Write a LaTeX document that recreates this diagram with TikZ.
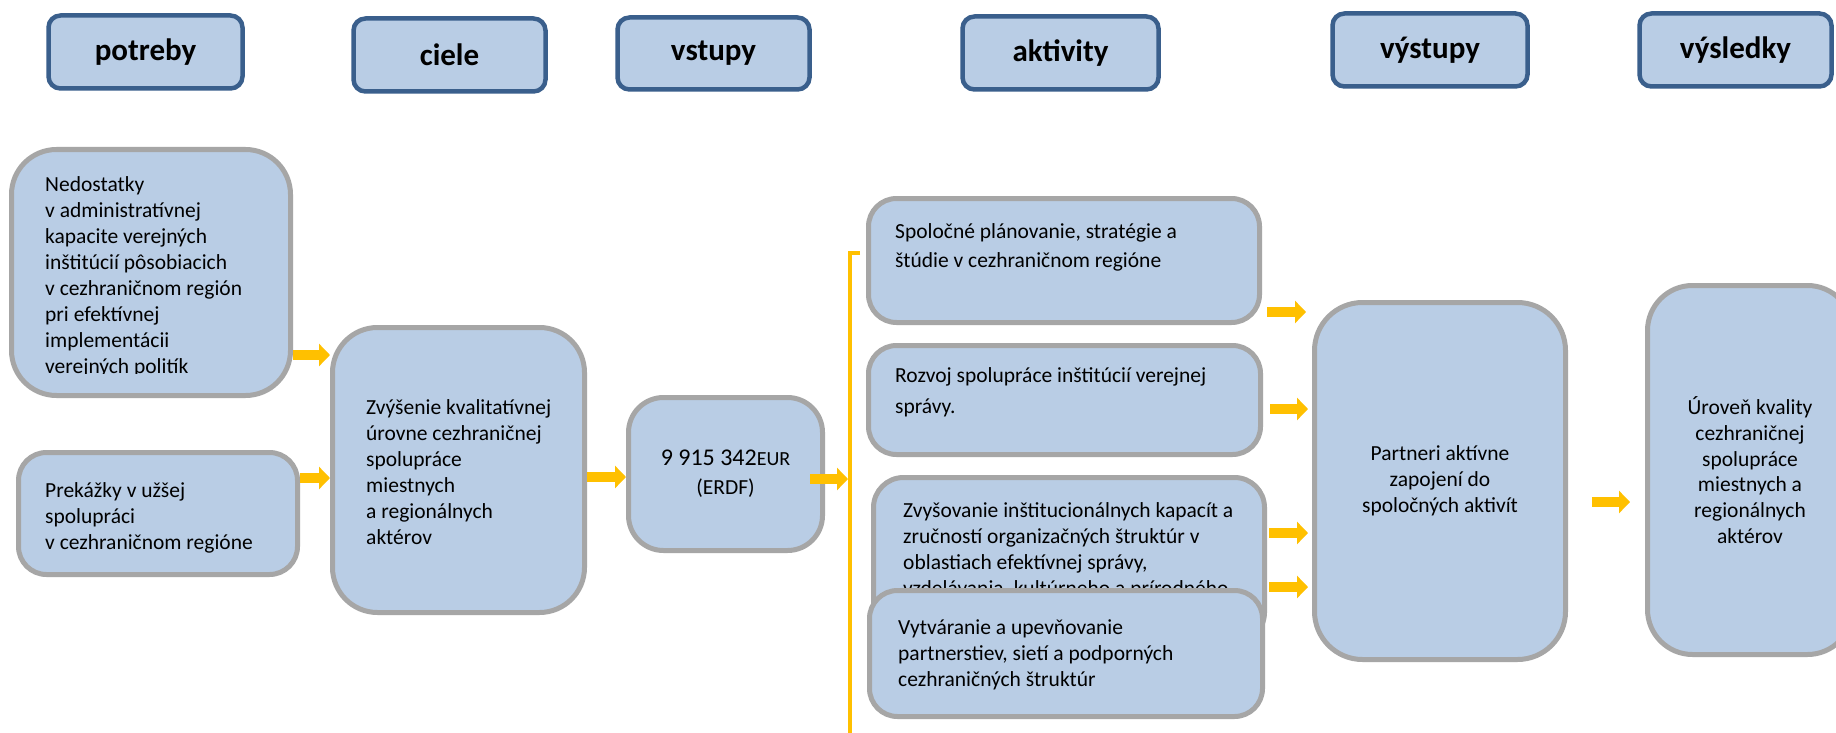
\documentclass[tikz,border=0pt]{standalone}
\usepackage{fontspec}
\setmainfont{Carlito}
\usetikzlibrary{arrows.meta}
\definecolor{boxfill}{HTML}{B9CDE5}
\definecolor{hdrline}{HTML}{3A5F8C}
\definecolor{boxline}{HTML}{A6A6A6}
\definecolor{arrowy}{HTML}{FFC000}
\begin{document}
\begin{tikzpicture}[x=1pt,y=-1pt,
  hdr/.style={draw=hdrline, line width=4.5pt, fill=boxfill, rounded corners=12pt,
    font=\fontsize{31}{36}\selectfont\bfseries, inner sep=0pt},
  body/.style={draw=boxline, line width=5pt, fill=boxfill, inner sep=0pt},
  txt/.style={font=\fontsize{21.5}{26}\selectfont, align=left, inner sep=0pt},
  ctxt/.style={font=\fontsize{21.5}{25.8}\selectfont, align=center},
  yarrow/.style={draw=arrowy, line width=10.5pt, -{Triangle[length=11pt,width=22pt]}},
  bracket/.style={draw=arrowy, line width=4pt},
]
\clip (0,0) rectangle (1836,733);
\fill[white] (0,0) rectangle (1836,733);

% header row
\node[hdr, minimum width=194pt, minimum height=73pt] (hpot) at (145.5,52) {potreby};
\node[hdr, minimum width=192pt, minimum height=73pt] (hcie) at (449.5,55) {ciele};
\node[hdr, minimum width=192pt, minimum height=72pt] (hvst) at (713.5,53.5) {vstupy};
\node[hdr, minimum width=196pt, minimum height=73pt] (hakt) at (1060.5,53) {aktivity};
\node[hdr, minimum width=195pt, minimum height=73pt] (hvys) at (1430,50) {výstupy};
\node[hdr, minimum width=192pt, minimum height=73pt] (hvsl) at (1735.5,50) {výsledky};

% potreby
\node[body, rounded corners=45pt, minimum width=279pt, minimum height=246pt] (ned) at (151,272.5) {};
\begin{scope}
\clip (30,160) rectangle (290,373);
\node[txt, anchor=north west] (nedtxt) at (45,176) {Nedostatky\\
v administratívnej\\
kapacite verejných\\
inštitúcií pôsobiacich\\
v cezhraničnom región\\
pri efektívnej\\
implementácii\\
verejných politík};
\end{scope}

\node[body, rounded corners=28pt, minimum width=279pt, minimum height=122pt] (pre) at (158,513.5) {};
\node[txt, anchor=west] (pretxt) at (45,517.5) {Prekážky v užšej\\spolupráci\\v cezhraničnom regióne};

% ciele
\node[body, rounded corners=45pt, minimum width=252pt, minimum height=285pt] (zvy) at (458.5,470) {};
\node[txt, anchor=west] (zvytxt) at (366,472) {Zvýšenie kvalitatívnej\\úrovne cezhraničnej\\spolupráce\\miestnych\\a regionálnych\\aktérov};

% vstupy
\node[body, ctxt, rounded corners=35pt, minimum width=194pt, minimum height=153pt,
  font=\fontsize{21.5}{29}\selectfont] (eur) at (725.5,474)
  {{\fontsize{24}{29}\selectfont 9 915 342}{\fontsize{20}{29}\selectfont EUR}\\(ERDF)};

% bracket
\coordinate (brt) at (860,253);
\coordinate (brc) at (850,253);
\coordinate (brb) at (850,733);
\draw[bracket] (brt) -- (brc) -- (brb);

% aktivity
\node[body, rounded corners=28pt, minimum width=391pt, minimum height=124pt] (a1) at (1064,260.5) {};
\node[txt, anchor=north west, font=\fontsize{21.5}{29}\selectfont] (a1txt) at (895,223)
  {Spoločné plánovanie, stratégie a\\štúdie v cezhraničnom regióne};
\node[body, rounded corners=28pt, minimum width=392pt, minimum height=109pt] (a2) at (1064.5,400) {};
\node[txt, anchor=north west, font=\fontsize{21.5}{31}\selectfont] (a2txt) at (895,367.5)
  {Rozvoj spolupráce inštitúcií verejnej\\správy.};
\node[body, rounded corners=30pt, minimum width=391pt, minimum height=165pt] (a3) at (1069,560) {};
\node[txt, anchor=north west] (a3txt) at (903,502.5)
  {Zvyšovanie inštitucionálnych kapacít a\\zručností organizačných štruktúr v\\oblastiach efektívnej správy,\\vzdelávania, kultúrneho a prírodného};
\node[body, rounded corners=28pt, minimum width=393pt, minimum height=126pt] (a4) at (1066,653.5) {};
\node[txt, anchor=north west] (a4txt) at (898,620)
  {Vytváranie a upevňovanie\\partnerstiev, sietí a podporných\\cezhraničných štruktúr};

% vystupy
\node[body, ctxt, rounded corners=48pt, minimum width=251pt, minimum height=357pt] (par) at (1440,481)
  {Partneri aktívne\\zapojení do\\spoločných aktivít};

% vysledky
\node[body, ctxt, rounded corners=45pt, minimum width=205pt, minimum height=369pt] (uro) at (1750,470)
  {Úroveň kvality\\cezhraničnej\\spolupráce\\miestnych a\\regionálnych\\aktérov};

% arrow rows
\coordinate (r1) at (0,355);
\coordinate (r2) at (0,478);
\coordinate (r3) at (0,477);
\coordinate (r4) at (0,479);
\coordinate (r5) at (0,312);
\coordinate (r6) at (0,409);
\coordinate (r7) at (0,533);
\coordinate (r8) at (0,587);
\coordinate (r9) at (0,502);

\draw[yarrow] (ned.east |- r1) -- (zvy.west |- r1);
\draw[yarrow] (pre.east |- r2) -- (zvy.west |- r2);
\draw[yarrow] (zvy.east |- r3) -- (eur.west |- r3);
\draw[yarrow, shorten <=-15pt, shorten >=2pt] (eur.east |- r4) -- (brb |- r4);
\draw[yarrow, shorten <=5pt, shorten >=6pt] (a1.east |- r5) -- (par.west |- r5);
\draw[yarrow, shorten <=7pt, shorten >=4pt] (a2.east |- r6) -- (par.west |- r6);
\draw[yarrow, shorten <=2pt, shorten >=4pt] (a3.east |- r7) -- (par.west |- r7);
\draw[yarrow, shorten <=4pt, shorten >=4pt] (a4.east |- r8) -- (par.west |- r8);
\draw[yarrow, shorten <=24pt, shorten >=15pt] (par.east |- r9) -- (uro.west |- r9);
\end{tikzpicture}
\end{document}
